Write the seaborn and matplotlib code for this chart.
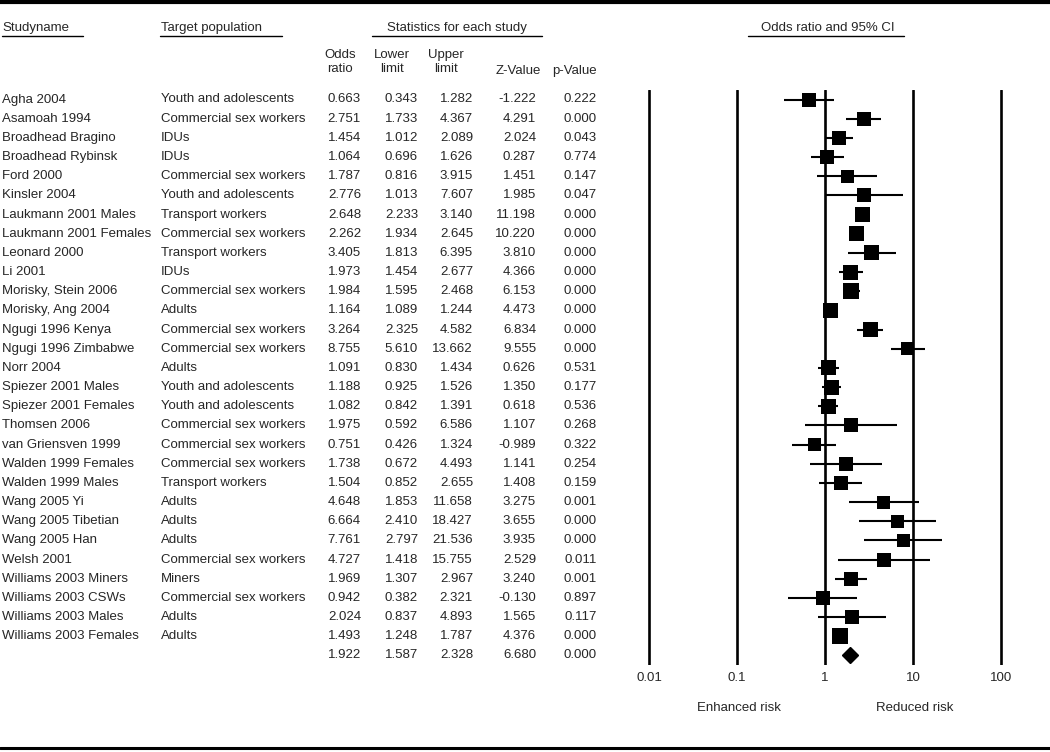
import matplotlib
matplotlib.use("Agg")
import numpy as np
import pandas as pd
from matplotlib import pyplot as plt
from matplotlib import transforms
from matplotlib.lines import Line2D
from matplotlib.ticker import NullLocator
import seaborn as sns

study = [
    "Agha 2004", "Asamoah 1994", "Broadhead Bragino", "Broadhead Rybinsk",
    "Ford 2000", "Kinsler 2004", "Laukmann 2001 Males", "Laukmann 2001 Females",
    "Leonard 2000", "Li 2001", "Morisky, Stein 2006", "Morisky, Ang 2004",
    "Ngugi 1996 Kenya", "Ngugi 1996 Zimbabwe", "Norr 2004", "Spiezer 2001 Males",
    "Spiezer 2001 Females", "Thomsen 2006", "van Griensven 1999",
    "Walden 1999 Females", "Walden 1999 Males", "Wang 2005 Yi",
    "Wang 2005 Tibetian", "Wang 2005 Han", "Welsh 2001", "Williams 2003 Miners",
    "Williams 2003 CSWs", "Williams 2003 Males", "Williams 2003 Females",
]
population = [
    "Youth and adolescents", "Commercial sex workers", "IDUs", "IDUs",
    "Commercial sex workers", "Youth and adolescents", "Transport workers",
    "Commercial sex workers", "Transport workers", "IDUs",
    "Commercial sex workers", "Adults", "Commercial sex workers",
    "Commercial sex workers", "Adults", "Youth and adolescents",
    "Youth and adolescents", "Commercial sex workers", "Commercial sex workers",
    "Commercial sex workers", "Transport workers", "Adults", "Adults", "Adults",
    "Commercial sex workers", "Miners", "Commercial sex workers", "Adults", "Adults",
]
odds_ratio = [0.663, 2.751, 1.454, 1.064, 1.787, 2.776, 2.648, 2.262, 3.405, 1.973,
              1.984, 1.164, 3.264, 8.755, 1.091, 1.188, 1.082, 1.975, 0.751, 1.738,
              1.504, 4.648, 6.664, 7.761, 4.727, 1.969, 0.942, 2.024, 1.493]
lower = [0.343, 1.733, 1.012, 0.696, 0.816, 1.013, 2.233, 1.934, 1.813, 1.454,
         1.595, 1.089, 2.325, 5.610, 0.830, 0.925, 0.842, 0.592, 0.426, 0.672,
         0.852, 1.853, 2.410, 2.797, 1.418, 1.307, 0.382, 0.837, 1.248]
upper = [1.282, 4.367, 2.089, 1.626, 3.915, 7.607, 3.140, 2.645, 6.395, 2.677,
         2.468, 1.244, 4.582, 13.662, 1.434, 1.526, 1.391, 6.586, 1.324, 4.493,
         2.655, 11.658, 18.427, 21.536, 15.755, 2.967, 2.321, 4.893, 1.787]
z_value = [-1.222, 4.291, 2.024, 0.287, 1.451, 1.985, 11.198, 10.220, 3.810, 4.366,
           6.153, 4.473, 6.834, 9.555, 0.626, 1.350, 0.618, 1.107, -0.989, 1.141,
           1.408, 3.275, 3.655, 3.935, 2.529, 3.240, -0.130, 1.565, 4.376]
p_value = [0.222, 0.000, 0.043, 0.774, 0.147, 0.047, 0.000, 0.000, 0.000, 0.000,
           0.000, 0.000, 0.000, 0.000, 0.531, 0.177, 0.536, 0.268, 0.322, 0.254,
           0.159, 0.001, 0.000, 0.000, 0.011, 0.001, 0.897, 0.117, 0.000]
# relative study weight
rel_weight = [14, 14, 14, 14, 13, 14, 15, 15, 15, 15, 16, 15, 15, 13, 15, 15,
              15, 14, 13, 14, 14, 13, 13, 13, 14, 14, 14, 14, 16]
summary = [1.922, 1.587, 2.328, 6.680, 0.000]
axis_ticks = [0.01, 0.1, 1, 10, 100]
axis_labels = ["0.01", "0.1", "1", "10", "100"]

W, H = 1050, 752
ROW0, ROW_H = 99.5, 19.17


def fx(px):
    return px / W


def fy(py):
    return 1 - py / H


df = pd.DataFrame({"study": study, "population": population, "odds_ratio": odds_ratio,
                   "lower": lower, "upper": upper, "z": z_value, "p": p_value,
                   "weight": rel_weight})
df["row"] = np.arange(len(df))
df["area"] = (df["weight"] * 0.72) ** 2
n = len(df)

sns.set_style("white")
plt.rcParams["font.family"] = ["Liberation Sans", "DejaVu Sans"]
FS = 9.5

fig = plt.figure(figsize=(W / 100, H / 100), dpi=100)
ax = fig.add_axes([fx(620), fy(665), (1040 - 620) / W, (665 - 90) / H])
ax.set_xscale("log")
ax.set_xlim(10 ** (-2 - 29 / 88), 10 ** (2 + 39 / 88))
ax.set_ylim((665 - ROW0) / ROW_H, (90 - ROW0) / ROW_H)

for t in axis_ticks:
    ax.axvline(t, color="black", lw=1.9, zorder=1)

ax.hlines(df["row"], df["lower"], df["upper"], color="black", lw=1.5, zorder=2)
amin, amax = df["area"].min(), df["area"].max()
sns.scatterplot(data=df, x="odds_ratio", y="row", size="area", sizes=(amin, amax),
                size_norm=(amin, amax), marker="s", color="black", edgecolor="black",
                linewidth=0, legend=False, ax=ax, zorder=3)
ax.plot([summary[0]], [n], marker="D", ms=8, color="black", zorder=3)

ax.set_xticks(axis_ticks, axis_labels)
ax.xaxis.set_minor_locator(NullLocator())
ax.tick_params(axis="x", length=0, pad=5, labelsize=FS)
ax.set_yticks([])
ax.set_xlabel("")
ax.set_ylabel("")
for s in ax.spines.values():
    s.set_visible(False)

# table columns
trans = transforms.blended_transform_factory(fig.transFigure, ax.transData)
num_cols = [("odds_ratio", 361), ("lower", 418), ("upper", 473), ("z", 536), ("p", 597)]
for _, r in df.iterrows():
    ax.text(fx(2), r["row"], r["study"], transform=trans, ha="left", va="center", fontsize=FS)
    ax.text(fx(161), r["row"], r["population"], transform=trans, ha="left", va="center",
            fontsize=FS)
    for col, xr in num_cols:
        ax.text(fx(xr), r["row"], f"{r[col]:.3f}", transform=trans, ha="right",
                va="center", fontsize=FS)
for val, (_, xr) in zip(summary, num_cols):
    ax.text(fx(xr), n, f"{val:.3f}", transform=trans, ha="right", va="center", fontsize=FS)

# headers
fig.text(fx(2), fy(28), "Studyname", ha="left", va="center", fontsize=FS)
fig.text(fx(161), fy(28), "Target population", ha="left", va="center", fontsize=FS)
fig.text(fx(457), fy(28), "Statistics for each study", ha="center", va="center", fontsize=FS)
fig.text(fx(828), fy(28), "Odds ratio and 95% CI", ha="center", va="center", fontsize=FS)
for x0, x1 in [(2, 83), (160, 282), (372, 542), (748, 904)]:
    fig.add_artist(Line2D([fx(x0), fx(x1)], [fy(36), fy(36)], transform=fig.transFigure,
                          color="black", lw=1.0))

sub_heads = [("Odds\nratio", 340), ("Lower\nlimit", 392), ("Upper\nlimit", 446)]
for txt, xc in sub_heads:
    fig.text(fx(xc), fy(62), txt, ha="center", va="center", fontsize=FS, linespacing=1.2)
fig.text(fx(541), fy(71), "Z-Value", ha="right", va="center", fontsize=FS)
fig.text(fx(597), fy(71), "p-Value", ha="right", va="center", fontsize=FS)

fig.text(fx(739), fy(708), "Enhanced risk", ha="center", va="center", fontsize=FS)
fig.text(fx(915), fy(708), "Reduced risk", ha="center", va="center", fontsize=FS)

# frame lines at top and bottom
for yy, lw in [(2, 3.0), (748, 2.2)]:
    fig.add_artist(Line2D([0, 1], [fy(yy), fy(yy)], transform=fig.transFigure,
                          color="black", lw=lw))

fig.savefig("out.png", dpi=100)
plt.close(fig)
